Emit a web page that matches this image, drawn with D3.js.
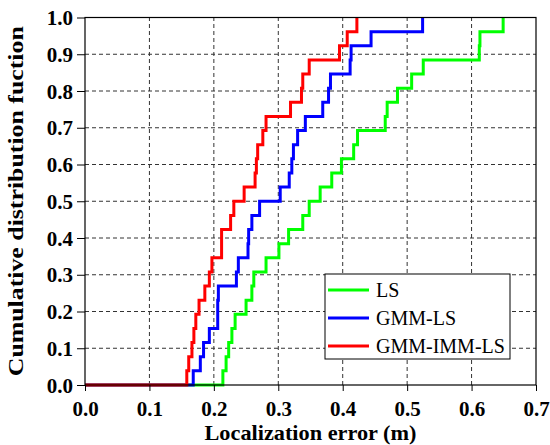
<!DOCTYPE html>
<html>
<head>
<meta charset="utf-8">
<script src="https://cdn.jsdelivr.net/npm/d3@7"></script>
<style>
  body { margin: 0; background: #fff; }
  svg text { font-family: "Liberation Serif", "Times New Roman", Tinos, Times, serif; }
</style>
</head>
<body>
<div id="chart"></div>
<script>
// sorted localization errors (m), 26 trials per method
const lsErr = [0.214, 0.219, 0.223, 0.228, 0.233, 0.250, 0.259, 0.262, 0.281, 0.301,
  0.316, 0.338, 0.348, 0.365, 0.383, 0.398, 0.417, 0.423, 0.466, 0.469,
  0.485, 0.507, 0.525, 0.612, 0.613, 0.649];
const gmmLsErr = [0.168, 0.179, 0.184, 0.193, 0.206, 0.206, 0.207, 0.235, 0.238, 0.253,
  0.254, 0.259, 0.271, 0.303, 0.317, 0.321, 0.3235, 0.330, 0.342, 0.369,
  0.378, 0.381, 0.4115, 0.413, 0.444, 0.524];
const gmmImmLsErr = [0.158, 0.161, 0.166, 0.169, 0.172, 0.177, 0.186, 0.193, 0.197, 0.212,
  0.212, 0.226, 0.231, 0.247, 0.264, 0.266, 0.268, 0.276, 0.281, 0.319,
  0.336, 0.338, 0.348, 0.395, 0.407, 0.422];

const seriesNames = ["LS", "GMM-LS", "GMM-IMM-LS"];
const seriesColors = ["#00ff00", "#0000ff", "#ff0000"];
const xTicks = [0, 0.1, 0.2, 0.3, 0.4, 0.5, 0.6, 0.7];
const yTicks = [0, 0.1, 0.2, 0.3, 0.4, 0.5, 0.6, 0.7, 0.8, 0.9, 1.0];

const width = 550;
const height = 445;
const margin = { top: 17.5, right: 14, bottom: 60, left: 85 };

const svg = d3.select("#chart")
  .append("svg")
  .attr("width", width)
  .attr("height", height);

const x = d3.scaleLinear()
  .domain([0, 0.7])
  .range([margin.left, width - margin.right]);

const y = d3.scaleLinear()
  .domain([0, 1])
  .range([height - margin.bottom, margin.top]);

// grid
const grid = svg.append("g")
  .attr("stroke", "#333")
  .attr("stroke-width", 1)
  .attr("stroke-dasharray", "4,3");
grid.selectAll(".gx")
  .data(xTicks.slice(1, -1))
  .join("line")
    .attr("class", "gx")
    .attr("x1", d => x(d)).attr("x2", d => x(d))
    .attr("y1", y(0)).attr("y2", y(1));
grid.selectAll(".gy")
  .data(yTicks.slice(1, -1))
  .join("line")
    .attr("class", "gy")
    .attr("x1", x(0)).attr("x2", x(0.7))
    .attr("y1", d => y(d)).attr("y2", d => y(d));

// empirical CDF as step lines
function cdfPoints(vals) {
  const n = vals.length;
  return [[0, 0]].concat(vals.map((v, i) => [v, (i + 1) / n]));
}

const line = d3.line()
  .x(d => x(d[0]))
  .y(d => y(d[1]))
  .curve(d3.curveStepAfter);

const allSeries = [lsErr, gmmLsErr, gmmImmLsErr];
svg.append("g")
  .selectAll("path")
  .data(allSeries)
  .join("path")
    .attr("fill", "none")
    .attr("stroke", (d, i) => seriesColors[i])
    .attr("stroke-width", 3)
    .attr("d", d => line(cdfPoints(d)));

// axes
const xAxis = svg.append("g")
  .attr("transform", `translate(0,${y(0)})`)
  .call(d3.axisBottom(x).tickValues(xTicks).tickFormat(d3.format(".1f")).tickSize(6).tickSizeOuter(0));
const yAxis = svg.append("g")
  .attr("transform", `translate(${x(0)},0)`)
  .call(d3.axisLeft(y).tickValues(yTicks).tickFormat(d3.format(".1f")).tickSize(8).tickSizeOuter(0));

[xAxis, yAxis].forEach(g => {
  g.attr("font-family", null).attr("font-size", null);
  g.select(".domain").remove();
  g.selectAll("line").attr("stroke", "#000");
  g.selectAll("text")
    .attr("fill", "#000")
    .attr("font-weight", "bold")
    .attr("font-size", 21);
});
xAxis.selectAll("text").attr("dy", null).attr("y", 31);
yAxis.selectAll("text").attr("x", -12).attr("dy", "0.34em");

// frame
svg.append("rect")
  .attr("x", x(0)).attr("y", y(1))
  .attr("width", x(0.7) - x(0))
  .attr("height", y(0) - y(1))
  .attr("fill", "none")
  .attr("stroke", "#000")
  .attr("stroke-width", 1.2);

// titles
svg.append("text")
  .attr("x", (x(0) + x(0.7)) / 2)
  .attr("y", 440)
  .attr("text-anchor", "middle")
  .attr("font-weight", "bold")
  .attr("font-size", 21)
  .attr("textLength", 212)
  .attr("lengthAdjust", "spacingAndGlyphs")
  .text("Localization error (m)");

svg.append("text")
  .attr("transform", `translate(23,${(y(0) + y(1)) / 2}) rotate(-90)`)
  .attr("text-anchor", "middle")
  .attr("font-weight", "bold")
  .attr("font-size", 21)
  .attr("textLength", 350)
  .attr("lengthAdjust", "spacingAndGlyphs")
  .text("Cumulative distribution fuction");

// legend
const legend = svg.append("g");
legend.append("rect")
  .attr("x", 325).attr("y", 274)
  .attr("width", 185).attr("height", 85)
  .attr("fill", "#fff")
  .attr("stroke", "#000")
  .attr("stroke-width", 1);
const item = legend.selectAll(".item")
  .data(seriesNames)
  .join("g")
    .attr("class", "item")
    .attr("transform", (d, i) => `translate(328,${290 + i * 28})`);
item.append("line")
  .attr("x1", 0).attr("x2", 41)
  .attr("stroke", (d, i) => seriesColors[i])
  .attr("stroke-width", 3);
item.append("text")
  .attr("x", 48)
  .attr("dy", "0.35em")
  .attr("font-size", 20)
  .attr("fill", "#000")
  .text(d => d);
</script>
</body>
</html>
